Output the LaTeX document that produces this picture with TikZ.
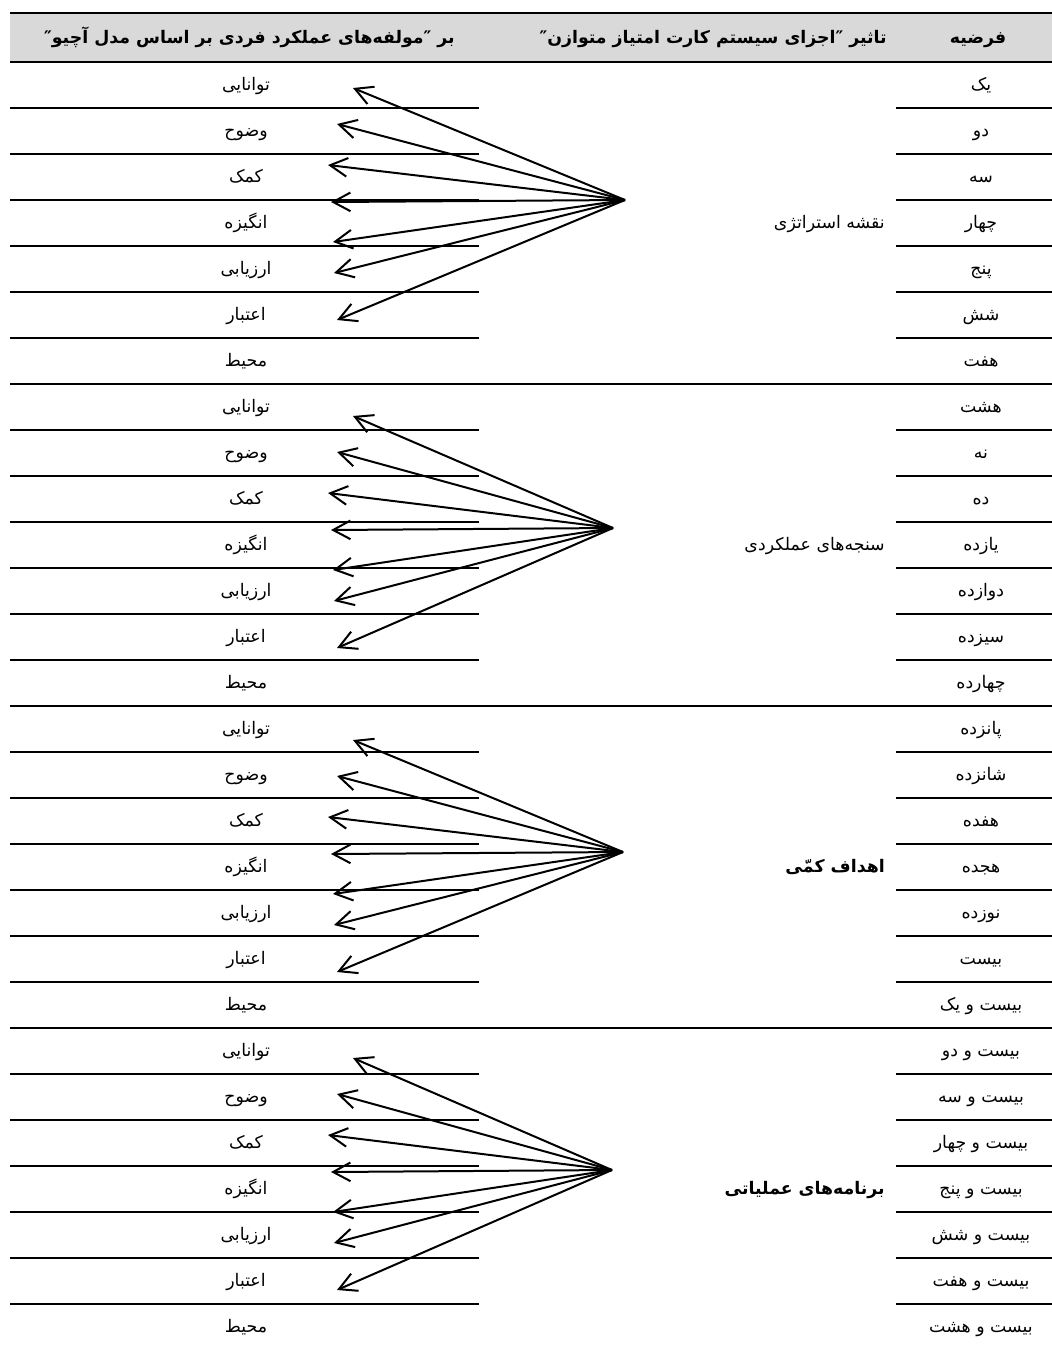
\documentclass[tikz,border=0pt]{standalone}
\usepackage{fontspec}
\usetikzlibrary{arrows.meta}
\TeXXeTstate=1
\newfontfamily\fa[Script=Arabic]{DejaVu Sans}
\newcommand\prs[1]{{\fa\beginR #1\endR}}
\definecolor{hdrgray}{RGB}{217,217,217}
\tikzset{
  cell/.style={inner sep=0pt, anchor=base, font=\fontsize{13}{15}\selectfont},
  hdr/.style={inner sep=0pt, anchor=base, font=\fontsize{13}{15}\selectfont\bfseries},
  rule/.style={line width=1.5pt},
  hrule/.style={line width=2.2pt},
  arr/.style={line width=1.5pt, -{Straight Barb[length=13pt,width=14pt]}}
}
\begin{document}
\begin{tikzpicture}[x=0.75pt,y=-0.75pt]
\useasboundingbox (0,0) rectangle (1052,1347);
% header
\fill[hdrgray] (10,13) rectangle (1052,62);
\draw[hrule] (10,13) -- (1052,13);
\draw[hrule] (10,62) -- (1052,62);
\node[hdr] (h1) at (978,43) {\prs{فرضیه}};
\node[hdr,anchor=base east] (h2) at (887,43) {\prs{تاثیر ″اجزای سیستم کارت امتیاز متوازن″}};
\node[hdr,anchor=base east] (h3) at (455,43) {\prs{بر ″مولفه‌های عملکرد فردی بر اساس مدل آچیو″}};
% row rules
\foreach \k in {1,...,27}{
  \pgfmathtruncatemacro\m{mod(\k,7)}
  \ifnum\m=0
    \draw[rule] (10,{62+46*\k}) -- (1052,{62+46*\k});
  \else
    \draw[rule] (10,{62+46*\k}) -- (479,{62+46*\k});
    \draw[rule] (896,{62+46*\k}) -- (1052,{62+46*\k});
  \fi
}
% hypothesis numbers
\foreach \t [count=\i] in {یک,دو,سه,چهار,پنج,شش,هفت,هشت,نه,ده,یازده,دوازده,سیزده,چهارده,پانزده,شانزده,هفده,هجده,نوزده,بیست,بیست و یک,بیست و دو,بیست و سه,بیست و چهار,بیست و پنج,بیست و شش,بیست و هفت,بیست و هشت}
  \node[cell] (num\i) at (981,{62+46*(\i-0.5)+5}) {\prs{\t}};
% components
\foreach \s in {0,1,2,3}{
  \foreach \t [count=\j] in {توانایی,وضوح,کمک,انگیزه,ارزیابی,اعتبار,محیط}
    \node[cell] (comp\s-\j) at (246,{62+322*\s+46*(\j-0.5)+5}) {\prs{\t}};
}
% middle labels
\node[cell,anchor=base east] (mid0) at (885,228) {\prs{نقشه استراتژی}};
\node[cell,anchor=base east] (mid1) at (885,550) {\prs{سنجه‌های عملکردی}};
\node[cell,anchor=base east] (mid2) at (885,872) {\prs{\bfseries اهداف کمّی}};
\node[cell,anchor=base east] (mid3) at (885,1194) {\prs{\bfseries برنامه‌های عملیاتی}};
% arrows
\foreach \s/\sx/\sy in {0/625/200,1/613/528,2/623/852,3/612/1170}{
  \coordinate (src\s) at (\sx,\sy);
  \foreach \tx/\ty [count=\j] in {353/-112,337/-76,328/-35,331/2,333/42,334/73,337/120}{
    \coordinate (tip\s-\j) at (\tx,{\sy+\ty});
    \draw[arr] (src\s) -- (tip\s-\j);
  }
}
\end{tikzpicture}
\end{document}
